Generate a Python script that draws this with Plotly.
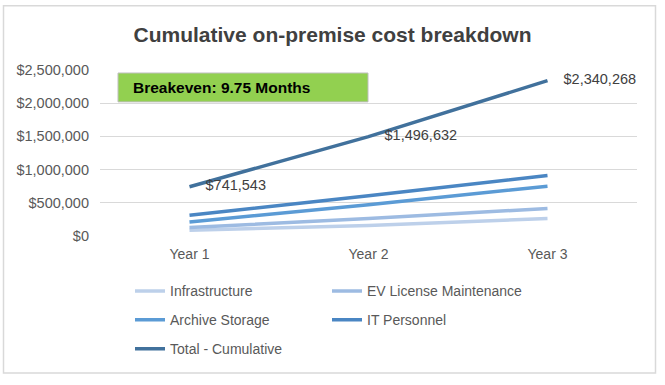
import plotly.graph_objects as go

categories = ["Year 1", "Year 2", "Year 3"]
infrastructure = [88000, 160000, 264000]
ev_license = [128000, 263000, 414000]
archive_storage = [210000, 472000, 750000]
it_personnel = [312000, 605000, 912000]
total_cumulative = [741543, 1496632, 2340268]
total_labels = ["$741,543", "$1,496,632", "$2,340,268"]
y_ticks = [0, 500000, 1000000, 1500000, 2000000, 2500000]
y_tick_labels = ["$0", "$500,000", "$1,000,000", "$1,500,000", "$2,000,000", "$2,500,000"]

FONT = "Liberation Sans"
TXT = "#595959"

W, H = 665, 385
L, R, T, B = 100, 665 - 637, 70, 385 - 236.5
PW, PH = 637 - 100, 236.5 - 70


def px(x):
    return (x - L) / PW


def py(y):
    return (236.5 - y) / PH


series = [
    ("Infrastructure", infrastructure, "#bdd0ea", "legend", 130, 292),
    ("EV License Maintenance", ev_license, "#9dbbe2", "legend2", 327, 292),
    ("Archive Storage", archive_storage, "#5b9bd5", "legend3", 130, 321),
    ("IT Personnel", it_personnel, "#4a86c3", "legend4", 327, 321),
    ("Total - Cumulative", total_cumulative, "#41719c", "legend5", 130, 350),
]

fig = go.Figure()
legends = {}
for name, vals, col, lg, lx, ly in series:
    fig.add_trace(go.Scatter(x=categories, y=vals, name=name, mode="lines",
                             line=dict(color=col, width=3.5), legend=lg))
    legends[lg] = dict(x=px(lx), y=py(ly), orientation="v", xanchor="left", yanchor="middle",
                       font=dict(family=FONT, size=14, color=TXT), itemwidth=30,
                       bgcolor="rgba(0,0,0,0)")

fig.add_trace(go.Scatter(x=categories, y=total_cumulative, mode="markers+text",
                         text=total_labels, textposition="middle right",
                         textfont=dict(family=FONT, size=14.5, color="#404040"),
                         marker=dict(size=24, color="rgba(0,0,0,0)"),
                         showlegend=False, cliponaxis=False, hoverinfo="skip"))

fig.update_layout(
    width=W, height=H,
    margin=dict(l=L, r=R, t=T, b=B, pad=0),
    paper_bgcolor="white", plot_bgcolor="white",
    font=dict(family=FONT, size=14, color=TXT),
    title=dict(text="<b>Cumulative on-premise cost breakdown</b>", x=0.5, xanchor="center",
               y=1 - 35 / H, yanchor="middle",
               font=dict(family=FONT, size=21, color="#404040")),
    xaxis=dict(showgrid=False, showline=False, zeroline=False, ticks="",
               range=[-0.5, 2.5], ticklabelstandoff=8,
               tickfont=dict(family=FONT, size=14, color=TXT)),
    yaxis=dict(range=[0, 2500000], tickvals=y_ticks, ticktext=y_tick_labels,
               showgrid=True, gridcolor="#d9d9d9", gridwidth=1, zeroline=False,
               showline=False, ticks="", ticklabelstandoff=10,
               tickfont=dict(family=FONT, size=14.5, color=TXT)),
    showlegend=True,
    shapes=[
        dict(type="rect", xref="paper", yref="paper", x0=px(118), x1=px(368), y0=py(102), y1=py(73),
             fillcolor="#92d050", line=dict(color="#bfbfbf", width=1), layer="above"),
        dict(type="rect", xref="paper", yref="paper", x0=px(3.5), x1=px(655.5), y0=py(374), y1=py(5.5),
             fillcolor="rgba(0,0,0,0)", line=dict(color="#d9d9d9", width=1.5), layer="above"),
    ],
    annotations=[
        dict(text="<b>Breakeven: 9.75 Months</b>", xref="paper", yref="paper",
             x=px(131), y=py(88), xanchor="left", yanchor="middle", showarrow=False,
             font=dict(family=FONT, size=15.5, color="black")),
    ],
    **legends,
)

fig.write_html("out.html", config={"displayModeBar": False},
               post_script="document.body.style.margin='0';document.body.style.padding='0';")
